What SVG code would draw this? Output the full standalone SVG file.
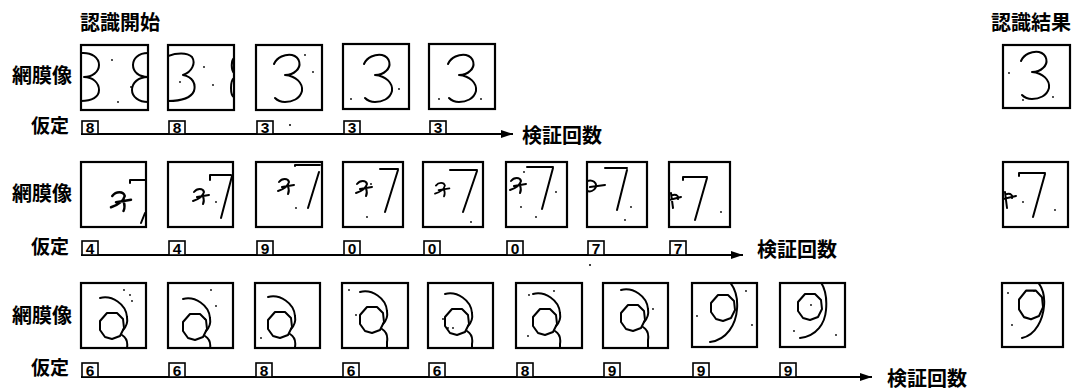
<svg xmlns="http://www.w3.org/2000/svg" width="1081" height="390" viewBox="0 0 1081 390">
  <style>
    .frame { fill: none; stroke: #000; stroke-width: 2.2; }
    .ink { fill: none; stroke: #000; stroke-width: 2; stroke-linecap: round; stroke-linejoin: round; }
    .lbl { font-family: "Noto Sans CJK JP", "Noto Sans CJK SC", sans-serif; font-weight: 700; font-size: 20px; fill: #000; }
    .lbl-s { font-family: "Noto Sans CJK JP", "Noto Sans CJK SC", sans-serif; font-weight: 700; font-size: 19px; fill: #000; }
    .hyp rect { fill: #fff; stroke: #000; stroke-width: 1.6; }
    .hyp text { font-family: "Liberation Sans", Arial, sans-serif; font-weight: 700; font-size: 15.5px; text-anchor: middle; fill: #000; }
    .axis { stroke: #000; stroke-width: 2; fill: none; }
    .dot { fill: #000; }
  </style>
  <defs>
    <marker id="arrow" viewBox="0 0 12 8" refX="12" refY="4" markerWidth="12" markerHeight="8" markerUnits="userSpaceOnUse" orient="auto">
      <path d="M0,0 L12,4 L0,8 Z" fill="#000"/>
    </marker>
    <!-- handwritten "3" stroke, origin at glyph top-left -->
    <path id="g3" class="ink" d="M1,9 C4,2 12,-1 19,0 C27,2 29,11 23,16 C20,19 16,20 12,20 C23,21 30,28 29,36 C27,44 19,47 12,47 C7,47 4,45 2,43"/>
    <!-- stray scribble next to the "7" -->
    <path id="gm" class="ink" d="M1,4 C4,0 10,0 11,4 C10,8 6,11 0,13 M4,9 L16,7 M10,8 C11,11 11,14 10,16"/>
    <!-- loop of the "9", origin at loop centre -->
    <path id="gloop" class="ink" d="M-5,-13 L5,-13 L11,-7 L12,2 L8,10 L0,13 L-7,11 L-12,4 L-12,-5 Z"/>
    <g id="gside">
      <use href="#gloop"/>
      <path class="ink" d="M-12,-28 C0,-31 14,-22 15,-9 C16,-3 14,1 11,4"/>
      <path class="ink" d="M10,9 C15,12 16,16 15,22 L15,40"/>
    </g>
  </defs>

  <!-- column headings -->
  <text class="lbl" x="80" y="30">認識開始</text>
  <text class="lbl" x="991" y="30">認識結果</text>

  <!-- row labels -->
  <text class="lbl" x="12" y="83">網膜像</text>
  <text class="lbl-s" x="31" y="133">仮定</text>
  <text class="lbl" x="12" y="201">網膜像</text>
  <text class="lbl-s" x="31" y="254">仮定</text>
  <text class="lbl" x="12" y="323">網膜像</text>
  <text class="lbl-s" x="31" y="375">仮定</text>

  <!-- verification axes -->
  <g id="connectors">
    <line class="axis" x1="81" y1="134" x2="513" y2="134" marker-end="url(#arrow)"/>
    <line class="axis" x1="81" y1="255" x2="743" y2="255" marker-end="url(#arrow)"/>
    <line class="axis" x1="81" y1="377" x2="872" y2="377" marker-end="url(#arrow)"/>
  </g>
  <text class="lbl" x="522" y="143">検証回数</text>
  <text class="lbl" x="757" y="257">検証回数</text>
  <text class="lbl" x="887" y="386">検証回数</text>

  <!-- ===== row 1 : digit 3 ===== -->
  <g id="r1-img1">
    <svg x="81" y="45" width="67" height="65" overflow="hidden">
      <path class="ink" d="M0,8 C11,7 18,13 18,20 C18,27 11,32 3,32 C12,32 18,38 18,45 C18,52 11,56 0,56"/>
      <path class="ink" d="M67,8 C57,8 52,14 52,20 C52,27 58,32 67,32 M67,32 C57,32 51,38 51,45 C51,52 58,57 67,57"/>
      <circle class="dot" cx="31" cy="15" r="0.9"/><circle class="dot" cx="50" cy="42" r="0.9"/><circle class="dot" cx="37" cy="57" r="0.9"/>
    </svg>
    <rect class="frame" x="81" y="45" width="67" height="65"/>
  </g>
  <g id="r1-img2">
    <svg x="168" y="45" width="66" height="65" overflow="hidden">
      <path class="ink" d="M0,11 C8,8 19,7 24,12 C28,18 24,27 15,30 C25,32 28,39 26,46 C23,53 14,56 0,56"/>
      <path class="ink" d="M66,13 C63,15 63,25 66,28 M66,33 C62,36 62,50 66,52"/>
      <circle class="dot" cx="36" cy="22" r="0.9"/><circle class="dot" cx="45" cy="40" r="0.9"/><circle class="dot" cx="12" cy="37" r="0.9"/>
    </svg>
    <rect class="frame" x="168" y="45" width="66" height="65"/>
  </g>
  <g id="r1-img3">
    <svg x="256" y="45" width="66" height="65" overflow="hidden">
      <use href="#g3" x="17" y="10"/>
      <circle class="dot" cx="49" cy="10" r="0.9"/><circle class="dot" cx="57" cy="27" r="0.9"/>
    </svg>
    <rect class="frame" x="256" y="45" width="66" height="65"/>
  </g>
  <g id="r1-img4">
    <svg x="343" y="44" width="66" height="65" overflow="hidden">
      <use href="#g3" x="20" y="11"/>
      <circle class="dot" cx="8" cy="55" r="0.9"/><circle class="dot" cx="56" cy="45" r="0.9"/>
    </svg>
    <rect class="frame" x="343" y="44" width="66" height="65"/>
  </g>
  <g id="r1-img5">
    <svg x="429" y="44" width="66" height="65" overflow="hidden">
      <use href="#g3" x="18" y="11"/>
      <circle class="dot" cx="10" cy="55" r="0.9"/><circle class="dot" cx="52" cy="55" r="0.9"/>
    </svg>
    <rect class="frame" x="429" y="44" width="66" height="65"/>
  </g>
  <g id="r1-result">
    <svg x="1003" y="45" width="67" height="63" overflow="hidden">
      <use href="#g3" x="17" y="7"/>
      <circle class="dot" cx="6" cy="28" r="0.9"/><circle class="dot" cx="20" cy="55" r="0.9"/><circle class="dot" cx="50" cy="52" r="0.9"/>
    </svg>
    <rect class="frame" x="1003" y="45" width="67" height="63"/>
  </g>
  <g id="r1-hyp" class="hyp">
    <rect x="82" y="121" width="16" height="13"/><text x="90" y="133">8</text>
    <rect x="169" y="121" width="16" height="13"/><text x="177" y="133">8</text>
    <rect x="257" y="121" width="16" height="13"/><text x="265" y="133">3</text>
    <rect x="344" y="121" width="16" height="13"/><text x="352" y="133">3</text>
    <rect x="430" y="121" width="16" height="13"/><text x="438" y="133">3</text>
  </g>
  <circle class="dot" cx="290" cy="125" r="1"/>

  <!-- ===== row 2 : digit 7 ===== -->
  <g id="r2-img1">
    <svg x="81" y="162" width="65" height="65" overflow="hidden">
      <path class="ink" d="M49,21 L49,18 L65,18 M64,51 L60,61"/>
      <use href="#gm" transform="translate(30,29) scale(1.25)"/>
    </svg>
    <rect class="frame" x="81" y="162" width="65" height="65"/>
  </g>
  <g id="r2-img2">
    <svg x="168" y="162" width="65" height="65" overflow="hidden">
      <path class="ink" d="M42,18 L42,13 L63,13 M64,14 L53,56"/>
      <use href="#gm" transform="translate(25,26)"/>
      <circle class="dot" cx="48" cy="40" r="0.9"/>
    </svg>
    <rect class="frame" x="168" y="162" width="65" height="65"/>
  </g>
  <g id="r2-img3">
    <svg x="256" y="162" width="66" height="65" overflow="hidden">
      <path class="ink" d="M39,4 L39,3 L64,3 M63,10 L52,46"/>
      <use href="#gm" transform="translate(22,16)"/>
      <circle class="dot" cx="40" cy="46" r="0.9"/>
    </svg>
    <rect class="frame" x="256" y="162" width="66" height="65"/>
  </g>
  <g id="r2-img4">
    <svg x="343" y="162" width="60" height="65" overflow="hidden">
      <path class="ink" d="M37,7 L55,7 M55,8 L42,50"/>
      <use href="#gm" transform="translate(13,18)"/>
      <circle class="dot" cx="28" cy="22" r="0.9"/><circle class="dot" cx="24" cy="55" r="0.9"/>
    </svg>
    <rect class="frame" x="343" y="162" width="60" height="65"/>
  </g>
  <g id="r2-img5">
    <svg x="423" y="162" width="60" height="65" overflow="hidden">
      <path class="ink" d="M27,8 L54,8 M54,9 L40,50"/>
      <use href="#gm" transform="translate(12,20) scale(0.9)"/>
      <circle class="dot" cx="48" cy="60" r="0.9"/>
    </svg>
    <rect class="frame" x="423" y="162" width="60" height="65"/>
  </g>
  <g id="r2-img6">
    <svg x="506" y="162" width="61" height="65" overflow="hidden">
      <path class="ink" d="M21,5 L47,5 M47,6 L36,47"/>
      <use href="#gm" transform="translate(4,15)"/>
      <circle class="dot" cx="18" cy="10" r="0.9"/><circle class="dot" cx="50" cy="30" r="0.9"/><circle class="dot" cx="15" cy="45" r="0.9"/><circle class="dot" cx="30" cy="55" r="0.9"/>
    </svg>
    <rect class="frame" x="506" y="162" width="61" height="65"/>
  </g>
  <g id="r2-img7">
    <svg x="587" y="162" width="60" height="65" overflow="hidden">
      <path class="ink" d="M18,6 L40,6 M40,8 L30,48"/>
      <path class="ink" d="M0,19 C6,17 10,21 9,25 C7,29 3,30 0,29 M3,25 L18,23"/>
      <circle class="dot" cx="44" cy="45" r="0.9"/><circle class="dot" cx="38" cy="58" r="0.9"/>
    </svg>
    <rect class="frame" x="587" y="162" width="60" height="65"/>
  </g>
  <g id="r2-img8">
    <svg x="669" y="162" width="61" height="65" overflow="hidden">
      <path class="ink" d="M14,18 L14,15 L38,15 M38,16 L26,58"/>
      <path class="ink" d="M2,31 L4,46 M0,38 L12,35 M4,33 C8,32 10,35 9,37"/>
      <circle class="dot" cx="52" cy="50" r="0.9"/>
    </svg>
    <rect class="frame" x="669" y="162" width="61" height="65"/>
  </g>
  <g id="r2-result">
    <svg x="1003" y="162" width="65" height="65" overflow="hidden">
      <path class="ink" d="M16,14 L16,11 L42,11 M42,12 L30,55"/>
      <path class="ink" d="M2,30 L4,46 M0,37 L13,34 M4,32 C8,31 10,34 9,36"/>
      <circle class="dot" cx="52" cy="48" r="0.9"/><circle class="dot" cx="20" cy="40" r="0.9"/>
    </svg>
    <rect class="frame" x="1003" y="162" width="65" height="65"/>
  </g>
  <g id="r2-hyp" class="hyp">
    <rect x="82" y="241" width="16" height="14"/><text x="90" y="253.5">4</text>
    <rect x="169" y="241" width="16" height="14"/><text x="177" y="253.5">4</text>
    <rect x="257" y="241" width="16" height="14"/><text x="265" y="253.5">9</text>
    <rect x="344" y="241" width="16" height="14"/><text x="352" y="253.5">0</text>
    <rect x="424" y="241" width="16" height="14"/><text x="432" y="253.5">0</text>
    <rect x="507" y="241" width="16" height="14"/><text x="515" y="253.5">0</text>
    <rect x="588" y="241" width="16" height="14"/><text x="596" y="253.5">7</text>
    <rect x="670" y="241" width="16" height="14"/><text x="678" y="253.5">7</text>
  </g>
  <circle class="dot" cx="590" cy="265" r="1"/>

  <!-- ===== row 3 : digit 9 ===== -->
  <g id="r3-img1">
    <svg x="81" y="283" width="65" height="65" overflow="hidden">
      <use href="#gside" x="31" y="43"/>
      <circle class="dot" cx="43" cy="7" r="0.9"/><circle class="dot" cx="49" cy="12" r="0.9"/><circle class="dot" cx="51" cy="18" r="0.9"/>
    </svg>
    <rect class="frame" x="81" y="283" width="65" height="65"/>
  </g>
  <g id="r3-img2">
    <svg x="168" y="283" width="65" height="65" overflow="hidden">
      <use href="#gside" x="27" y="44"/>
      <circle class="dot" cx="43" cy="7" r="0.9"/><circle class="dot" cx="48" cy="23" r="0.9"/><circle class="dot" cx="37" cy="36" r="0.9"/>
    </svg>
    <rect class="frame" x="168" y="283" width="65" height="65"/>
  </g>
  <g id="r3-img3">
    <svg x="255" y="283" width="65" height="65" overflow="hidden">
      <use href="#gside" x="25" y="42"/>
      <circle class="dot" cx="6" cy="55" r="0.9"/>
    </svg>
    <rect class="frame" x="255" y="283" width="65" height="65"/>
  </g>
  <g id="r3-img4">
    <svg x="342" y="283" width="66" height="65" overflow="hidden">
      <use href="#gside" x="30" y="37"/>
      <circle class="dot" cx="7" cy="7" r="0.9"/><circle class="dot" cx="14" cy="32" r="0.9"/>
    </svg>
    <rect class="frame" x="342" y="283" width="66" height="65"/>
  </g>
  <g id="r3-img5">
    <svg x="428" y="283" width="65" height="65" overflow="hidden">
      <use href="#gside" x="29" y="39"/>
      <circle class="dot" cx="15" cy="36" r="0.9"/><circle class="dot" cx="20" cy="45" r="0.9"/><circle class="dot" cx="25" cy="45" r="0.9"/>
    </svg>
    <rect class="frame" x="428" y="283" width="65" height="65"/>
  </g>
  <g id="r3-img6">
    <svg x="516" y="283" width="66" height="65" overflow="hidden">
      <use href="#gside" x="29" y="39"/>
      <circle class="dot" cx="13" cy="12" r="0.9"/><circle class="dot" cx="38" cy="8" r="0.9"/><circle class="dot" cx="12" cy="53" r="0.9"/>
    </svg>
    <rect class="frame" x="516" y="283" width="66" height="65"/>
  </g>
  <g id="r3-img7">
    <svg x="603" y="283" width="65" height="65" overflow="hidden">
      <use href="#gside" x="30" y="35"/>
      <circle class="dot" cx="50" cy="26" r="0.9"/>
    </svg>
    <rect class="frame" x="603" y="283" width="65" height="65"/>
  </g>
  <g id="r3-img8">
    <svg x="692" y="283" width="65" height="64" overflow="hidden">
      <use href="#gloop" transform="translate(31,25)"/>
      <path class="ink" d="M37,-2 C43,5 46,14 45,26 C44,41 35,57 18,59"/>
      <circle class="dot" cx="5" cy="33" r="0.9"/><circle class="dot" cx="60" cy="42" r="0.9"/><circle class="dot" cx="54" cy="8" r="0.9"/>
    </svg>
    <rect class="frame" x="692" y="283" width="65" height="64"/>
  </g>
  <g id="r3-img9">
    <svg x="780" y="283" width="65" height="64" overflow="hidden">
      <use href="#gloop" transform="translate(30,24)"/>
      <path class="ink" d="M40,-2 C46,6 47,16 46,27 C45,40 37,53 20,55"/>
      <circle class="dot" cx="31" cy="22" r="0.9"/><circle class="dot" cx="14" cy="48" r="0.9"/><circle class="dot" cx="56" cy="52" r="0.9"/>
    </svg>
    <rect class="frame" x="780" y="283" width="65" height="64"/>
  </g>
  <g id="r3-result">
    <svg x="1002" y="283" width="61" height="64" overflow="hidden">
      <use href="#gloop" transform="translate(29,22) scale(1,1.1)"/>
      <path class="ink" d="M35,-2 C41,5 43,13 42,23 C41,36 34,52 20,55"/>
      <circle class="dot" cx="6" cy="10" r="0.9"/><circle class="dot" cx="10" cy="42" r="0.9"/><circle class="dot" cx="32" cy="8" r="0.9"/>
    </svg>
    <rect class="frame" x="1002" y="283" width="61" height="64"/>
  </g>
  <g id="r3-hyp" class="hyp">
    <rect x="82" y="363" width="16" height="14"/><text x="90" y="375.5">6</text>
    <rect x="169" y="363" width="16" height="14"/><text x="177" y="375.5">6</text>
    <rect x="256" y="363" width="16" height="14"/><text x="264" y="375.5">8</text>
    <rect x="343" y="363" width="16" height="14"/><text x="351" y="375.5">6</text>
    <rect x="429" y="363" width="16" height="14"/><text x="437" y="375.5">6</text>
    <rect x="517" y="363" width="16" height="14"/><text x="525" y="375.5">8</text>
    <rect x="604" y="363" width="16" height="14"/><text x="612" y="375.5">9</text>
    <rect x="693" y="363" width="16" height="14"/><text x="701" y="375.5">9</text>
    <rect x="780" y="363" width="16" height="14"/><text x="788" y="375.5">9</text>
  </g>
</svg>
